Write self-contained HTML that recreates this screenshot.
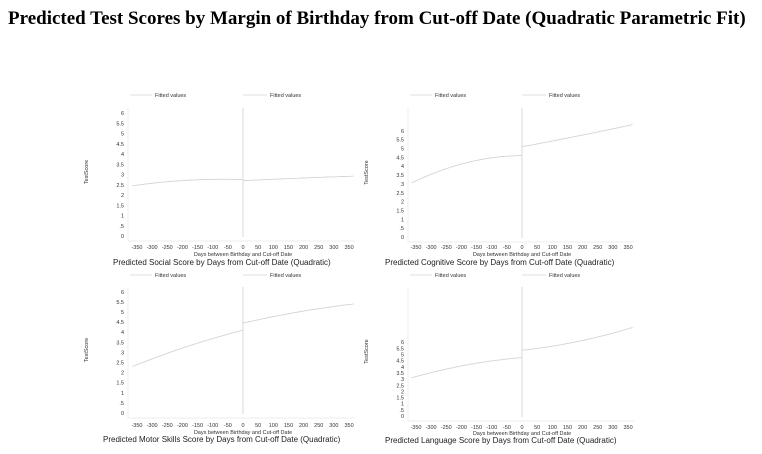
<!DOCTYPE html>
<html><head><meta charset="utf-8"><style>
body{margin:0;background:#fff;}
svg{display:block;font-family:"Liberation Sans",sans-serif;}
.t{font-family:"Liberation Serif",serif;font-weight:bold;font-size:19px;}
</style></head><body>
<svg id="s" width="762" height="454" viewBox="0 0 762 454">
<text class="t" x="8" y="24">Predicted Test Scores by Margin of Birthday from Cut-off Date (Quadratic Parametric Fit)</text>
</svg>
<script>
var s=document.getElementById('s'),h='';
var P=[
 {ax:128,y0:236,u:20.5,xz:243,top:108,leg:95,xl:249,dl:256,tl:265,tx:113,title:'Predicted Social Score by Days from Cut-off Date (Quadratic)',L:[2.45,2.72,2.75],R:[2.7,2.82,2.92]},
 {ax:408,y0:237,u:17.7,xz:522,top:108,leg:95,xl:249,dl:256,tl:265,tx:385,title:'Predicted Cognitive Score by Days from Cut-off Date (Quadratic)',L:[3.05,4.2,4.6],R:[5.1,5.7,6.35]},
 {ax:128,y0:413,u:20.2,xz:243,top:287,leg:275,xl:427,dl:434,tl:442,tx:103,title:'Predicted Motor Skills Score by Days from Cut-off Date (Quadratic)',L:[2.3,3.3,4.1],R:[4.45,5.0,5.4]},
 {ax:408,y0:416,u:12.3,xz:522,top:287,leg:275,xl:429,dl:435,tl:443,tx:385,title:'Predicted Language Score by Days from Cut-off Date (Quadratic)',L:[3.1,4.15,4.75],R:[5.35,6.05,7.2]}
];
var labs=['0','.5','1','1.5','2','2.5','3','3.5','4','4.5','5','5.5','6'];
P.forEach(function(p){
 var sc=0.303,X=function(d){return p.xz+d*sc},Y=function(v){return p.y0-v*p.u};
 var g='#d4d4d4';
 h+='<line x1="'+(p.ax+2)+'" y1="'+p.leg+'" x2="'+(p.ax+24)+'" y2="'+p.leg+'" stroke="'+g+'" stroke-width="0.8"/>';
 h+='<text x="'+(p.ax+27)+'" y="'+(p.leg+2)+'" font-size="5.5" fill="#333">Fitted values</text>';
 h+='<line x1="'+(p.xz)+'" y1="'+p.leg+'" x2="'+(p.xz+24)+'" y2="'+p.leg+'" stroke="'+g+'" stroke-width="0.8"/>';
 h+='<text x="'+(p.xz+27)+'" y="'+(p.leg+2)+'" font-size="5.5" fill="#333">Fitted values</text>';
 h+='<line x1="'+p.ax+'" y1="'+p.top+'" x2="'+p.ax+'" y2="'+(p.y0+5)+'" stroke="#e8e8e8" stroke-width="0.8"/>';
 h+='<line x1="'+p.ax+'" y1="'+(p.y0+5)+'" x2="'+(p.xz+112)+'" y2="'+(p.y0+5)+'" stroke="#e8e8e8" stroke-width="0.8"/>';
 for(var i=0;i<=12;i++){h+='<text x="'+(p.ax-4)+'" y="'+(Y(i/2)+2)+'" font-size="5.5" text-anchor="end" fill="#333">'+labs[i]+'</text>';}
 for(var d=-350;d<=350;d+=50){h+='<text x="'+X(d)+'" y="'+p.xl+'" font-size="5.5" text-anchor="middle" fill="#333">'+d+'</text>';}
 h+='<text x="'+(p.xz)+'" y="'+p.dl+'" font-size="5.5" text-anchor="middle" fill="#333">Days between Birthday and Cut-off Date</text>';
 h+='<text x="'+(p.ax-40)+'" y="'+((p.top+p.y0)/2)+'" font-size="5.5" text-anchor="middle" fill="#333" transform="rotate(-90 '+(p.ax-40)+' '+((p.top+p.y0)/2)+')">TestScore</text>';
 h+='<text x="'+p.tx+'" y="'+p.tl+'" font-size="8" fill="#222">'+p.title+'</text>';
 h+='<line x1="'+p.xz+'" y1="'+p.top+'" x2="'+p.xz+'" y2="'+(p.y0+1)+'" stroke="'+g+'" stroke-width="0.9"/>';
 function curve(a,b,c,d0,d1){var pts=[];for(var k=0;k<=30;k++){var t=k/30,d=d0+(d1-d0)*t;
   var v=a*(1-t)*(1-2*t)+4*b*t*(1-t)+c*t*(2*t-1);
   pts.push(X(d).toFixed(1)+','+Y(v).toFixed(1));}
   return '<polyline points="'+pts.join(' ')+'" fill="none" stroke="'+g+'" stroke-width="0.9"/>';}
 h+=curve(p.L[0],p.L[1],p.L[2],-365,0);
 h+=curve(p.R[0],p.R[1],p.R[2],0,365);
});
s.innerHTML+=h;
</script>
</body></html>
